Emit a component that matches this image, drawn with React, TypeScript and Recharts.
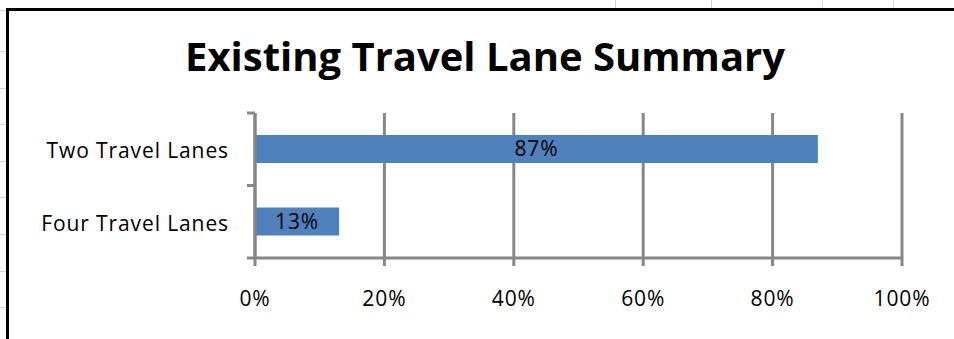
import { BarChart, Bar, XAxis, YAxis, CartesianGrid, LabelList } from 'recharts'

const categories = ['Two Travel Lanes', 'Four Travel Lanes']
const shares = [0.87, 0.13]
const percentTicks = [0, 0.2, 0.4, 0.6, 0.8, 1]

const FONT = '"Open Sans", Lato, sans-serif'
const AXIS_GRAY = '#878787'
const BAR_BLUE = '#4F81BD'
const Y_TICK_SIZE = 8
const Y_TICK_MARGIN = 18

const data = categories.map((name, i) => ({ name, value: shares[i] }))

const pct = (v: number) => `${Math.round(v * 100)}%`

// category labels, plus Excel-style tick marks at the band edges (not centres)
function CategoryTick(props: any) {
  const { x, y, payload, index, visibleTicksCount } = props
  const half = payload.offset ?? 0
  const axisX = x + Y_TICK_MARGIN + Y_TICK_SIZE
  const isLast = index === visibleTicksCount - 1
  return (
    <g>
      <text
        x={x}
        y={y + 1}
        textAnchor="end"
        dominantBaseline="central"
        fill="#000"
        fontSize={21}
        fontFamily={FONT}
        letterSpacing={0.9}
      >
        {payload.value}
      </text>
      <line x1={axisX - Y_TICK_SIZE} x2={axisX} y1={y - half} y2={y - half} stroke={AXIS_GRAY} strokeWidth={3} />
      {isLast && (
        <line x1={axisX - Y_TICK_SIZE} x2={axisX} y1={y + half} y2={y + half} stroke={AXIS_GRAY} strokeWidth={3} />
      )}
    </g>
  )
}

const sheetRows = [10, 51, 88, 124, 161, 197, 234, 271, 307]
const sheetCols = [615, 711, 822, 893]

export default function App() {
  return (
    <div
      style={{
        position: 'absolute',
        left: 0,
        top: 0,
        width: 954,
        height: 339,
        overflow: 'hidden',
        background: '#fff',
      }}
    >
      {/* spreadsheet cells peeking out around the chart */}
      {sheetRows.map((y) => (
        <div key={'r' + y} style={{ position: 'absolute', left: 0, top: y, width: 6, height: 1, background: '#D0D7E5' }} />
      ))}
      {sheetCols.map((x) => (
        <div key={'c' + x} style={{ position: 'absolute', left: x, top: 0, width: 1, height: 8, background: '#D0D7E5' }} />
      ))}

      {/* chart frame */}
      <div
        style={{
          position: 'absolute',
          left: 6,
          top: 8,
          width: 1000,
          height: 400,
          borderTop: '3px solid #000',
          borderLeft: '3px solid #000',
        }}
      />

      <div
        style={{
          position: 'absolute',
          left: 0,
          top: 32,
          width: 970,
          textAlign: 'center',
          fontFamily: FONT,
          fontWeight: 700,
          fontSize: 40,
          color: '#000',
          lineHeight: '48px',
        }}
      >
        Existing Travel Lane Summary
      </div>

      <div style={{ position: 'absolute', left: 0, top: 0 }}>
        <BarChart
          width={954}
          height={339}
          data={data}
          layout="vertical"
          margin={{ top: 113, right: 52, bottom: 31, left: 0 }}
        >
          <CartesianGrid horizontal={false} stroke={AXIS_GRAY} strokeWidth={3} />
          <XAxis
            type="number"
            domain={[0, 1]}
            ticks={percentTicks}
            interval={0}
            tickFormatter={pct}
            height={50}
            tickSize={8}
            tickMargin={25}
            axisLine={{ stroke: AXIS_GRAY, strokeWidth: 3 }}
            tickLine={{ stroke: AXIS_GRAY, strokeWidth: 3 }}
            tick={{ fill: '#000', fontSize: 21, fontFamily: FONT, letterSpacing: 0.9 }}
          />
          <YAxis
            type="category"
            dataKey="name"
            width={255}
            tickSize={Y_TICK_SIZE}
            tickMargin={Y_TICK_MARGIN}
            tickLine={false}
            axisLine={{ stroke: AXIS_GRAY, strokeWidth: 3 }}
            tick={<CategoryTick />}
          />
          <Bar dataKey="value" fill={BAR_BLUE} barSize={28} isAnimationActive={false}>
            <LabelList
              dataKey="value"
              position="center"
              formatter={(v: any) => pct(Number(v))}
              fill="#000"
              fontSize={21}
              fontFamily={FONT}
              letterSpacing={0.9}
            />
          </Bar>
        </BarChart>
      </div>
    </div>
  )
}
